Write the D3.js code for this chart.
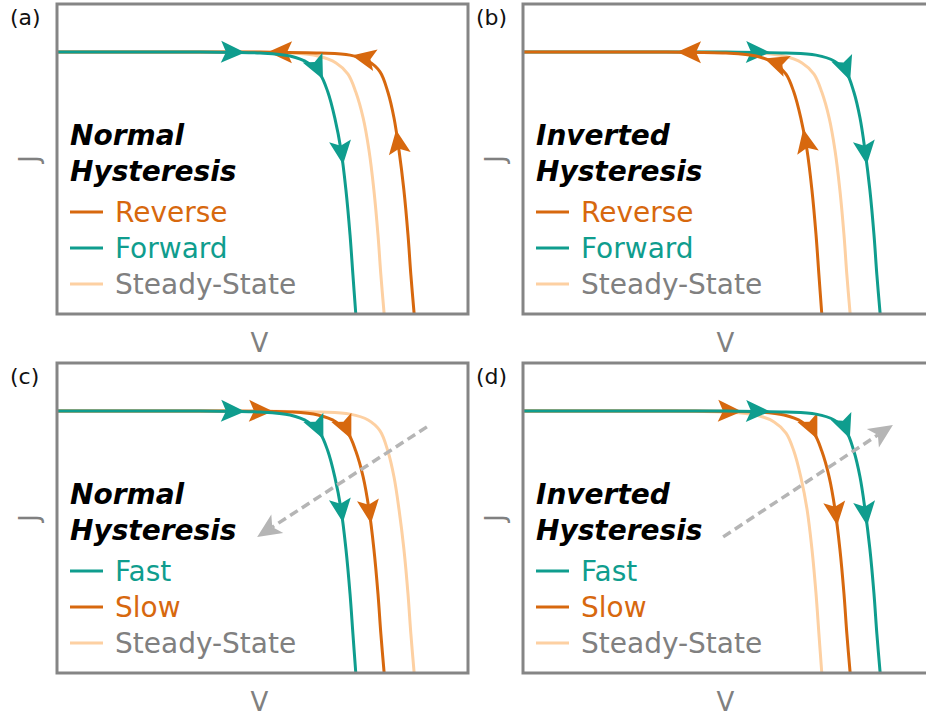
<!DOCTYPE html>
<html>
<head>
<meta charset="utf-8">
<script src="https://cdn.jsdelivr.net/npm/d3@7"></script>
<style>
  body { margin: 0; background: #fff; }
  svg { display: block; font-family: "DejaVu Sans", Verdana, sans-serif; }
</style>
</head>
<body>
<script>
"use strict";

// J-V curve shapes (V and J both normalised to the panel box, 0..1)
const curveInner = [[0, .845], [.348, .845], [.494, .842], [.567, .832], [.611, .810], [.640, .774],
  [.659, .716], [.676, .632], [.691, .529], [.703, .400], [.713, .255], [.720, .126], [.727, 0]];
const curveMid = [[0, .845], [.421, .845], [.567, .842], [.635, .832], [.679, .810], [.708, .774],
  [.727, .716], [.745, .632], [.759, .529], [.771, .400], [.781, .255], [.788, .126], [.796, 0]];
const curveOuter = [[0, .845], [.494, .845], [.640, .842], [.713, .835], [.757, .816], [.786, .781],
  [.805, .716], [.820, .632], [.832, .529], [.844, .400], [.854, .255], [.861, .126], [.869, 0]];

// where the direction arrow tips sit on each curve
const tipsA_fwd = [[.457, .845], [.652, .761], [.696, .481]];
const tipsA_rev = [[.513, .845], [.718, .835], [.822, .594]];
const tipsB_rev = [[.375, .845], [.589, .832], [.691, .600]];
const tipsB_fwd = [[.601, .845], [.796, .755], [.837, .481]];
const tipsC_fast = [[.457, .842], [.652, .758], [.696, .484]];
const tipsC_slow = [[.526, .842], [.723, .758], [.766, .481]];
const tipsD_slow = [[.533, .842], [.725, .758], [.764, .477]];
const tipsD_fast = [[.601, .842], [.796, .758], [.837, .474]];

// dashed "scan rate" arrows (from, to)
const shiftC = [[.900, .794], [.487, .439]];
const shiftD = [[.487, .439], [.900, .800]];

const panelLabels = ["(a)", "(b)", "(c)", "(d)"];
const titleWords = [["Normal", "Hysteresis"], ["Inverted", "Hysteresis"], ["Normal", "Hysteresis"], ["Inverted", "Hysteresis"]];
const legendTop = ["Reverse", "Forward", "Steady-State"];
const legendBottom = ["Fast", "Slow", "Steady-State"];

const orange = "#d7680e", teal = "#0f9d8e", peach = "#fdd0a2", grey = "#808080";

const W = 926, H = 716;
const box = {w: 411, h: 310};
const lefts = [57, 523], tops = [4, 363];

const svg = d3.select("body").append("svg").attr("width", W).attr("height", H);

// panel setup: series listed in drawing order (bottom first)
const panels = [
  {col: 0, row: 0, series: [
      {curve: curveMid, color: peach},
      {curve: curveOuter, color: orange, tips: tipsA_rev, dir: -1},
      {curve: curveInner, color: teal, tips: tipsA_fwd, dir: 1}],
    legend: [[legendTop[0], orange], [legendTop[1], teal], [legendTop[2], peach]]},
  {col: 1, row: 0, series: [
      {curve: curveMid, color: peach},
      {curve: curveOuter, color: teal, tips: tipsB_fwd, dir: 1},
      {curve: curveInner, color: orange, tips: tipsB_rev, dir: -1}],
    legend: [[legendTop[0], orange], [legendTop[1], teal], [legendTop[2], peach]]},
  {col: 0, row: 1, series: [
      {curve: curveOuter, color: peach},
      {curve: curveMid, color: orange, tips: tipsC_slow, dir: 1},
      {curve: curveInner, color: teal, tips: tipsC_fast, dir: 1}],
    legend: [[legendBottom[0], teal], [legendBottom[1], orange], [legendBottom[2], peach]],
    shift: shiftC},
  {col: 1, row: 1, series: [
      {curve: curveInner, color: peach},
      {curve: curveMid, color: orange, tips: tipsD_slow, dir: 1},
      {curve: curveOuter, color: teal, tips: tipsD_fast, dir: 1}],
    legend: [[legendBottom[0], teal], [legendBottom[1], orange], [legendBottom[2], peach]],
    shift: shiftD}
];

// arrow head with notched back, tip at origin pointing along +x
function headPath(len, half, notch) {
  return `M0,0L${-len},${-half}L${-len + notch},0L${-len},${half}Z`;
}

panels.forEach((p, i) => {
  const x0 = lefts[p.col], y0 = tops[p.row];
  const xScale = d3.scaleLinear().domain([0, 1]).range([x0, x0 + box.w]);
  const yScale = d3.scaleLinear().domain([0, 1]).range([y0 + box.h, y0]);
  const g = svg.append("g");

  const line = d3.line()
    .x(d => xScale(d[0]))
    .y(d => yScale(d[1]))
    .curve(d3.curveCatmullRom.alpha(0.5));

  // curves
  p.series.forEach(s => {
    const path = g.append("path")
      .attr("d", line(s.curve))
      .attr("fill", "none")
      .attr("stroke", s.color)
      .attr("stroke-width", 3);

    if (!s.tips) return;
    // sample path so arrow heads can be snapped onto it
    const node = path.node();
    const total = node.getTotalLength();
    const pts = d3.range(0, total, 1).map(l => node.getPointAtLength(l));
    s.tips.forEach(t => {
      const tx = xScale(t[0]), ty = yScale(t[1]);
      const k = d3.minIndex(pts, q => (q.x - tx) ** 2 + (q.y - ty) ** 2);
      const a = pts[Math.max(0, k - 5)], b = pts[Math.min(pts.length - 1, k + 5)];
      let ang = Math.atan2(b.y - a.y, b.x - a.x) * 180 / Math.PI;
      if (s.dir < 0) ang += 180;
      g.append("path")
        .attr("d", headPath(24, 11, 5))
        .attr("fill", s.color)
        .attr("transform", `translate(${pts[k].x},${pts[k].y}) rotate(${ang})`);
    });
  });

  // dashed shift arrow
  if (p.shift) {
    const [from, to] = p.shift;
    const fx = xScale(from[0]), fy = yScale(from[1]);
    const tx = xScale(to[0]), ty = yScale(to[1]);
    const ang = Math.atan2(ty - fy, tx - fx);
    const hl = 24;
    g.append("line")
      .attr("x1", fx).attr("y1", fy)
      .attr("x2", tx - Math.cos(ang) * (hl - 6)).attr("y2", ty - Math.sin(ang) * (hl - 6))
      .attr("stroke", "#b5b5b5")
      .attr("stroke-width", 3.5)
      .attr("stroke-dasharray", "9,5");
    g.append("path")
      .attr("d", headPath(hl, 11, 6))
      .attr("fill", "#b5b5b5")
      .attr("transform", `translate(${tx},${ty}) rotate(${ang * 180 / Math.PI})`);
  }

  // frame
  g.append("rect")
    .attr("x", x0).attr("y", y0)
    .attr("width", box.w).attr("height", box.h)
    .attr("fill", "none")
    .attr("stroke", "#858585")
    .attr("stroke-width", 3);

  // titles
  titleWords[i].forEach((w, j) => {
    g.append("text")
      .attr("x", x0 + 13)
      .attr("y", y0 + 141 + j * 36)
      .style("font-size", "28px")
      .style("font-weight", "bold")
      .style("font-style", "italic")
      .attr("fill", "#000")
      .text(w);
  });

  // legend
  p.legend.forEach((item, j) => {
    const by = y0 + 218 + j * 36;
    g.append("line")
      .attr("x1", x0 + 13).attr("x2", x0 + 46)
      .attr("y1", by - 10).attr("y2", by - 10)
      .attr("stroke", item[1])
      .attr("stroke-width", 3);
    g.append("text")
      .attr("x", x0 + 58)
      .attr("y", by)
      .style("font-size", "28px")
      .attr("fill", item[1] === peach ? grey : item[1])
      .text(item[0]);
  });

  // panel letter and axis names
  g.append("text")
    .attr("x", x0 - 47)
    .attr("y", y0 + 21)
    .style("font-size", "22px")
    .attr("fill", "#111")
    .text(panelLabels[i]);

  g.append("text")
    .attr("x", x0 + box.w / 2 - 3)
    .attr("y", y0 + 348)
    .attr("text-anchor", "middle")
    .style("font-size", "26px")
    .attr("fill", grey)
    .text("V");

  g.append("text")
    .attr("transform", `translate(${x0 - 19},${y0 + 155}) rotate(-90)`)
    .attr("text-anchor", "middle")
    .style("font-size", "26px")
    .attr("fill", grey)
    .text("J");
});
</script>
</body>
</html>
